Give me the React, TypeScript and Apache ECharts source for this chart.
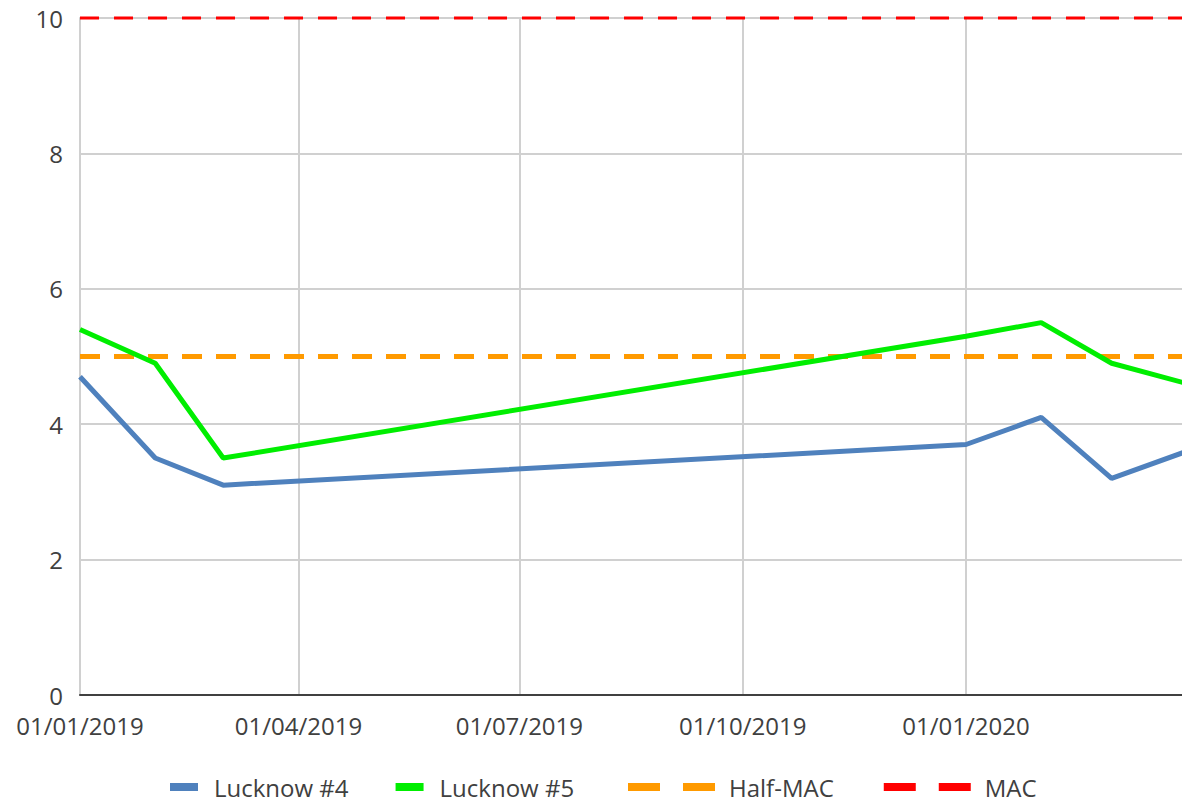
import React, { useEffect, useRef } from "react";
import * as echarts from "echarts";

const dates = ["2019-01-01", "2019-02-01", "2019-03-01", "2020-01-01", "2020-02-01", "2020-03-01", "2020-04-01"];
const lucknow4 = [4.7, 3.5, 3.1, 3.7, 4.1, 3.2, 3.6];
const lucknow5 = [5.4, 4.9, 3.5, 5.3, 5.5, 4.9, 4.6];
const limitDates = ["2019-01-01", "2020-04-01"];
const halfMac = [5, 5];
const mac = [10, 10];
const tickDates = ["2019-01-01", "2019-04-01", "2019-07-01", "2019-10-01", "2020-01-01"];
const xMinDate = "2019-01-01";
const xMaxDate = "2020-03-30";
const yTicks = { min: 0, max: 10, interval: 2 };

const ts = (s: string) => {
  const [y, m, d] = s.split("-").map(Number);
  return new Date(y, m - 1, d).getTime();
};
const pad = (n: number) => (n < 10 ? "0" + n : "" + n);
const fmt = (v: number) => {
  const d = new Date(v);
  return `${pad(d.getDate())}/${pad(d.getMonth() + 1)}/${d.getFullYear()}`;
};

const FONT = "'Open Sans', 'Noto Sans', sans-serif";
const TXT = "#404040";

export default function App() {
  const ref = useRef<HTMLDivElement>(null);
  useEffect(() => {
    if (!ref.current) return;
    const chart = echarts.init(ref.current, undefined, { renderer: "svg" });
    const tickVals = tickDates.map(ts);
    chart.setOption({
      animation: false,
      backgroundColor: "#ffffff",
      textStyle: { fontFamily: FONT },
      grid: { left: 80, right: 0, top: 18, bottom: 108, containLabel: false },
      xAxis: {
        type: "value",
        min: ts(xMinDate),
        max: ts(xMaxDate),
        axisLine: { show: true, onZero: false, lineStyle: { color: "#404040", width: 2 } },
        axisTick: { show: false, customValues: tickVals },
        axisLabel: {
          customValues: tickVals,
          formatter: (v: number) => fmt(v),
          color: TXT,
          fontSize: 24,
          lineHeight: 20,
          fontFamily: FONT,
          margin: 20,
        },
        splitLine: { show: true, lineStyle: { color: "#d0d0d0", width: 2 } },
      },
      yAxis: {
        type: "value",
        min: yTicks.min,
        max: yTicks.max,
        interval: yTicks.interval,
        axisLine: { show: true, lineStyle: { color: "#d0d0d0", width: 2 } },
        axisTick: { show: false },
        axisLabel: { color: TXT, fontSize: 24, lineHeight: 20, fontFamily: FONT, margin: 17 },
        splitLine: { show: true, lineStyle: { color: "#d0d0d0", width: 2 } },
      },
      legend: [
        {
          data: ["Lucknow #4", "Lucknow #5"],
          left: 165,
          top: 770,
          icon: "rect",
          itemWidth: 28,
          itemHeight: 8,
          itemGap: 47,
          itemStyle: { borderWidth: 0 },
          textStyle: { color: TXT, fontSize: 24, fontFamily: FONT, padding: [0, 0, 0, 11] },
        },
        {
          data: ["Half-MAC", "MAC"],
          left: 623,
          top: 770,
          icon: "path://M0,0H32V8H0Z M55,0H87V8H55Z",
          itemWidth: 87,
          itemHeight: 8,
          itemGap: 50,
          itemStyle: { borderWidth: 0 },
          textStyle: { color: TXT, fontSize: 24, fontFamily: FONT, padding: [0, 0, 0, 9] },
        },
      ],
      series: [
        {
          name: "Lucknow #4",
          type: "line",
          symbol: "none",
          clip: true,
          color: "#4f81bd",
          lineStyle: { color: "#4f81bd", width: 5 },
          data: dates.map((d, i) => [ts(d), lucknow4[i]]),
          z: 3,
        },
        {
          name: "Lucknow #5",
          type: "line",
          symbol: "none",
          clip: true,
          color: "#00ee00",
          lineStyle: { color: "#00ee00", width: 5 },
          data: dates.map((d, i) => [ts(d), lucknow5[i]]),
          z: 4,
        },
        {
          name: "Half-MAC",
          type: "line",
          symbol: "none",
          clip: true,
          color: "#ff9a00",
          lineStyle: { color: "#ff9a00", width: 5, type: [20, 14] },
          data: limitDates.map((d, i) => [ts(d), halfMac[i]]),
          z: 2,
        },
        {
          name: "MAC",
          type: "line",
          symbol: "none",
          clip: false,
          color: "#ff0000",
          lineStyle: { color: "#ff0000", width: 3, type: [19, 15] },
          data: [[ts(limitDates[0]), mac[0]], [ts(xMaxDate), mac[1]]],
          z: 2,
        },
      ],
    });
    return () => chart.dispose();
  }, []);
  return (
    <div
      ref={ref}
      style={{ position: "absolute", left: 0, top: 0, width: 1182, height: 803, background: "#fff" }}
    />
  );
}
